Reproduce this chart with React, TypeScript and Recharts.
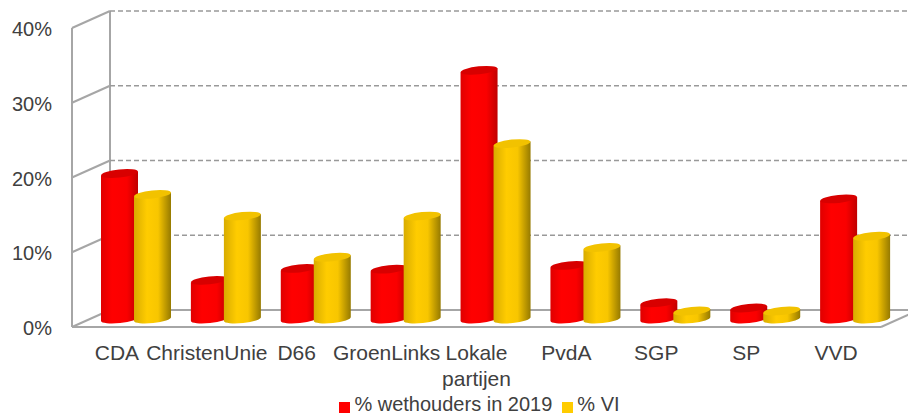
import { Bar, BarChart, CartesianGrid, Legend, XAxis, YAxis } from "recharts";

const parties = ["CDA", "ChristenUnie", "D66", "GroenLinks", "Lokale\npartijen", "PvdA", "SGP", "SP", "VVD"];
const wethouders = [19.6, 5.3, 6.9, 6.8, 33.4, 7.3, 2.3, 1.6, 16.2];
const vi = [16.8, 13.9, 8.4, 13.9, 23.6, 9.7, 1.2, 1.2, 11.2];
const yTicks = [0, 10, 20, 30, 40];

const data = parties.map((party, i) => ({ party, wethouders: wethouders[i], vi: vi[i] }));

const textColor = "#404040";
const wallColor = "#a6a6a6";
const font = "Liberation Sans, Arial, sans-serif";

// fake 3d: how far the back wall sits from the front plane
const depthX = 38;
const depthY = 17;
const plotBottom = 327;
const plotTop = 28;

const Cylinder = (props: any) => {
  const { x, y, width, height, gradient, top } = props;
  const rx = width / 2;
  const ry = 4;
  const tilt = 2;
  const left = x + 19;
  const right = left + width;
  const topY = y - 7;
  const baseY = y + height - 8;

  return (
    <g>
      <path
        d={`M${left},${topY + tilt} L${left},${baseY + tilt} A${rx},${ry} -6 0 0 ${right},${baseY - tilt} L${right},${topY - tilt} Z`}
        fill={`url(#${gradient})`}
      />
      <ellipse
        cx={left + rx}
        cy={topY}
        rx={rx}
        ry={ry}
        fill={top}
        transform={`rotate(-6 ${left + rx} ${topY})`}
      />
    </g>
  );
};

const gridLine = (props: any) => {
  const { x1, y1, x2, key } = props;
  const backY = y1 - depthY;
  const isFloor = y1 > plotBottom - 2;

  return (
    <g key={key ?? y1}>
      <line x1={x1} y1={y1} x2={x1 + depthX} y2={backY} stroke={wallColor} strokeWidth={2} />
      <line
        x1={x1 + depthX}
        y1={backY}
        x2={x2 + depthX}
        y2={backY}
        stroke={isFloor ? wallColor : "#999999"}
        strokeWidth={isFloor ? 2 : 1.5}
        strokeDasharray={isFloor ? undefined : "5 3"}
      />
      {isFloor && (
        <>
          <line x1={x1 + depthX} y1={plotTop - depthY} x2={x1 + depthX} y2={backY} stroke={wallColor} strokeWidth={2} />
          <line x1={x1} y1={y1} x2={x2} y2={y1} stroke={wallColor} strokeWidth={2} />
          <line x1={x2} y1={y1} x2={x2 + depthX} y2={backY} stroke={wallColor} strokeWidth={2} />
        </>
      )}
    </g>
  );
};

const PartyTick = (props: any) => {
  const { x, y, payload } = props;
  return (
    <text x={x} y={y + 27} textAnchor="middle" fill={textColor} fontSize={21} fontFamily={font}>
      {payload.value.split("\n").map((line: string, index: number) => (
        <tspan x={x} dy={index === 0 ? 0 : 26} key={index}>
          {line}
        </tspan>
      ))}
    </text>
  );
};

export default function App() {
  return (
    <div style={{ width: 908, height: 416 }}>
      <style>{"body{margin:0}"}</style>
      <BarChart
        width={908}
        height={416}
        data={data}
        margin={{ top: 28, right: 27, left: 0, bottom: 0 }}
        barSize={37}
        barGap={-4}
      >
        <defs>
          <linearGradient id="redCyl" x1="0" y1="0" x2="1" y2="0">
            <stop offset="0%" stopColor="#e00000" />
            <stop offset="30%" stopColor="#ff0000" />
            <stop offset="70%" stopColor="#fa0000" />
            <stop offset="100%" stopColor="#c00000" />
          </linearGradient>
          <linearGradient id="yellowCyl" x1="0" y1="0" x2="1" y2="0">
            <stop offset="0%" stopColor="#d8ac00" />
            <stop offset="35%" stopColor="#ffcc00" />
            <stop offset="65%" stopColor="#f8c600" />
            <stop offset="100%" stopColor="#967a00" />
          </linearGradient>
        </defs>
        <CartesianGrid vertical={false} horizontal={gridLine} />
        <XAxis
          dataKey="party"
          interval={0}
          height={65}
          axisLine={false}
          tickLine={false}
          tick={<PartyTick />}
          tickMargin={0}
        />
        <YAxis
          width={72}
          domain={[0, 40]}
          ticks={yTicks}
          tickFormatter={(value: number) => `${value}%`}
          tickLine={false}
          axisLine={{ stroke: wallColor, strokeWidth: 2 }}
          tick={{ fill: textColor, fontSize: 20, fontFamily: font, dy: 1 }}
          tickMargin={14}
        />
        <Legend
          height={24}
          iconType="square"
          iconSize={11}
          itemSorter={null}
          wrapperStyle={{ left: 44, bottom: 0, lineHeight: "24px" }}
          formatter={(value: string) => (
            <span style={{ color: textColor, fontSize: 20, fontFamily: font }}>{value}</span>
          )}
        />
        <Bar
          dataKey="wethouders"
          name="% wethouders in 2019"
          fill="#ff0000"
          isAnimationActive={false}
          shape={<Cylinder gradient="redCyl" top="#d80000" />}
        />
        <Bar
          dataKey="vi"
          name="% VI"
          fill="#ffcc00"
          isAnimationActive={false}
          shape={<Cylinder gradient="yellowCyl" top="#f2c200" />}
        />
      </BarChart>
    </div>
  );
}
